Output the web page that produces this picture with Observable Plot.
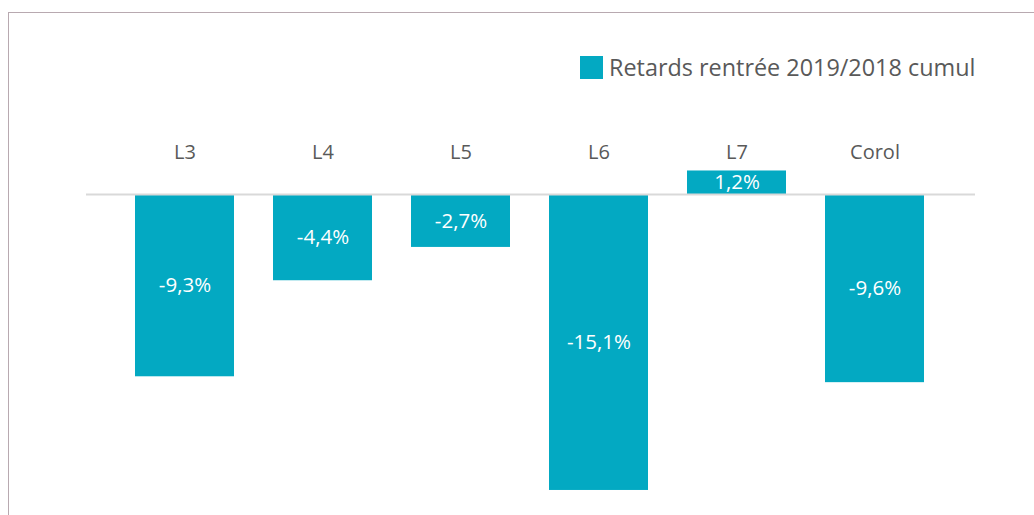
<!DOCTYPE html>
<html>
<head>
<meta charset="utf-8">
<script src="https://cdn.jsdelivr.net/npm/d3@7"></script>
<script src="https://cdn.jsdelivr.net/npm/@observablehq/plot@0.6"></script>
<style>
  html, body { margin: 0; padding: 0; background: #fff; }
  #wrap { position: relative; width: 1034px; height: 515px; overflow: hidden; font-family: "Open Sans", sans-serif; }
  #frame { position: absolute; left: 8px; top: 12px; width: 1100px; height: 600px; border-left: 1.5px solid #b8a9b0; border-top: 1.5px solid #b8a9b0; }
  #legend { position: absolute; left: 580px; top: 51px; display: flex; align-items: center; color: #595959; font-size: 23.4px; }
  #legend .sw { width: 23px; height: 23px; background: #03A9C2; margin-right: 6px; }
  #chart { position: absolute; left: 0; top: 0; }
</style>
</head>
<body>
<div id="wrap">
  <div id="frame"></div>
  <div id="chart"></div>
  <div id="legend"><span class="sw"></span><span id="legtext"></span></div>
</div>
<script>
const categories = ["L3", "L4", "L5", "L6", "L7", "Corol"];
const values = [-9.3, -4.4, -2.7, -15.1, 1.2, -9.6];
const seriesName = "Retards rentrée 2019/2018 cumul";
const barColor = "#03A9C2";

document.getElementById("legtext").textContent = seriesName;

const data = categories.map((c, i) => ({cat: c, v: values[i]}));
const fmt = v => v.toFixed(1).replace(".", ",") + "%";

const chart = Plot.plot({
  width: 1034,
  height: 515,
  marginLeft: 86,
  marginRight: 59,
  marginTop: 164,
  marginBottom: 0,
  style: {fontFamily: "Open Sans, sans-serif", background: "transparent"},
  x: {domain: categories, range: [134, 926], paddingInner: 0.28, paddingOuter: 0},
  y: {domain: [-16, 2], range: [194 + 16 * 19.6, 194 - 2 * 19.6]},
  marks: [
    Plot.barY(data, {x: "cat", y: "v", fill: barColor}),
    Plot.ruleY([0], {stroke: "#d9d9d9", strokeWidth: 2}),
    Plot.text(data, {x: "cat", y: d => d.v / 2, text: d => fmt(d.v), fill: "white", fontSize: 20.5}),
    Plot.axisX({anchor: "top", tickSize: 0, tickPadding: 6, fontSize: 20, color: "#595959", label: null}),
    Plot.axisY({ticks: [], label: null, tickSize: 0})
  ]
});
document.getElementById("chart").appendChild(chart);
</script>
</body>
</html>
